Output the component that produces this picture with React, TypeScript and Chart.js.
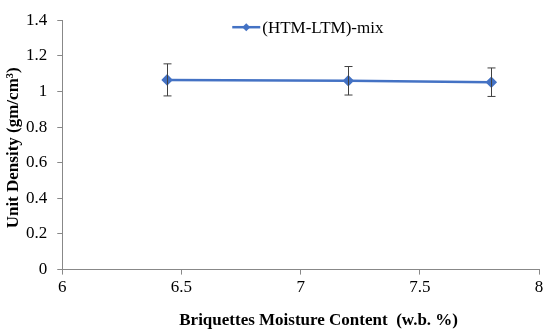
import React, { useEffect, useRef } from "react";
import { Chart, registerables } from "chart.js";

Chart.register(...registerables);

const seriesLabel = "(HTM-LTM)-mix";
const moisture = [6.44, 7.2, 7.8];
const density = [1.065, 1.06, 1.052];
const errorPlus = [0.09, 0.08, 0.08];
const errorMinus = [0.09, 0.08, 0.08];
const xTitle = "Briquettes Moisture Content  (w.b. %)";
const yTitle = "Unit Density (gm/cm\u00B3)";

const LINE_COLOR = "#4472C4";
const FONT = "'Liberation Serif', 'Times New Roman', serif";

const fmt = (v: number | string) => String(parseFloat(Number(v).toFixed(2)));

const errorBarPlugin = {
  id: "errorBars",
  afterDatasetsDraw(chart: any) {
    const ctx = chart.ctx;
    const xs = chart.scales.x;
    const ys = chart.scales.y;
    ctx.save();
    ctx.strokeStyle = "#404040";
    ctx.lineWidth = 1;
    moisture.forEach((xv, i) => {
      const px = Math.round(xs.getPixelForValue(xv)) + 0.5;
      const top = ys.getPixelForValue(density[i] + errorPlus[i]);
      const bot = ys.getPixelForValue(density[i] - errorMinus[i]);
      ctx.beginPath();
      ctx.moveTo(px, top);
      ctx.lineTo(px, bot);
      ctx.moveTo(px - 4, top);
      ctx.lineTo(px + 4, top);
      ctx.moveTo(px - 4, bot);
      ctx.lineTo(px + 4, bot);
      ctx.stroke();
    });
    ctx.restore();
  },
};

const titlesPlugin = {
  id: "axisTitles",
  afterDraw(chart: any) {
    const ctx = chart.ctx;
    const area = chart.chartArea;
    ctx.save();
    ctx.fillStyle = "#000";
    ctx.font = `bold 17px ${FONT}`;
    ctx.textAlign = "center";
    ctx.textBaseline = "alphabetic";
    ctx.fillText(xTitle, (area.left + area.right) / 2 + 18, chart.height - 5);
    ctx.translate(18, (area.top + area.bottom) / 2 + 3);
    ctx.rotate(-Math.PI / 2);
    ctx.fillText(yTitle, 0, 0);
    ctx.restore();
  },
};

const legendPlugin = {
  id: "insideLegend",
  afterDraw(chart: any) {
    const ctx = chart.ctx;
    const area = chart.chartArea;
    ctx.save();
    ctx.font = `17px ${FONT}`;
    const lineW = 28;
    const x0 = area.left + 170;
    const y = area.top + 7;
    ctx.strokeStyle = LINE_COLOR;
    ctx.lineWidth = 2.5;
    ctx.beginPath();
    ctx.moveTo(x0, y);
    ctx.lineTo(x0 + lineW, y);
    ctx.stroke();
    ctx.fillStyle = LINE_COLOR;
    const mx = x0 + lineW / 2;
    ctx.beginPath();
    ctx.moveTo(mx, y - 4);
    ctx.lineTo(mx + 4, y);
    ctx.lineTo(mx, y + 4);
    ctx.lineTo(mx - 4, y);
    ctx.closePath();
    ctx.fill();
    ctx.fillStyle = "#000";
    ctx.textBaseline = "middle";
    ctx.fillText(seriesLabel, x0 + lineW + 2, y + 1);
    ctx.restore();
  },
};

export default function App() {
  const ref = useRef<HTMLCanvasElement>(null);
  useEffect(() => {
    if (!ref.current) return;
    const chart = new Chart(ref.current, {
      type: "line",
      data: {
        datasets: [
          {
            label: seriesLabel,
            data: moisture.map((x, i) => ({ x, y: density[i] })),
            borderColor: LINE_COLOR,
            backgroundColor: LINE_COLOR,
            borderWidth: 2.5,
            pointStyle: "rectRot",
            pointRadius: 4,
            pointHoverRadius: 4,
            tension: 0,
          },
        ],
      },
      options: {
        animation: false,
        responsive: false,
        maintainAspectRatio: false,
        layout: { padding: { left: 16, right: 11, top: 20, bottom: 29 } },
        plugins: {
          legend: { display: false },
          tooltip: { enabled: false },
        },
        scales: {
          x: {
            type: "linear",
            min: 6,
            max: 8,
            ticks: {
              stepSize: 0.5,
              color: "#000",
              font: { family: FONT, size: 17 },
              padding: 3,
              callback: (v: any) => fmt(v),
            },
            grid: {
              display: true,
              drawOnChartArea: false,
              drawTicks: true,
              tickLength: 5,
              color: "#888",
            },
            border: { color: "#888" },
          },
          y: {
            min: 0,
            max: 1.4,
            ticks: {
              stepSize: 0.2,
              color: "#000",
              font: { family: FONT, size: 17 },
              padding: 10,
              callback: (v: any) => fmt(v),
            },
            grid: {
              display: true,
              drawOnChartArea: false,
              drawTicks: true,
              tickLength: 5,
              color: "#888",
            },
            border: { color: "#888" },
          },
        },
      },
      plugins: [errorBarPlugin, legendPlugin, titlesPlugin],
    });
    return () => chart.destroy();
  }, []);
  return (
    <div style={{ position: "fixed", left: 0, top: 0, width: 550, height: 330, background: "#fff" }}>
      <canvas ref={ref} width={550} height={330} style={{ display: "block" }} />
    </div>
  );
}
